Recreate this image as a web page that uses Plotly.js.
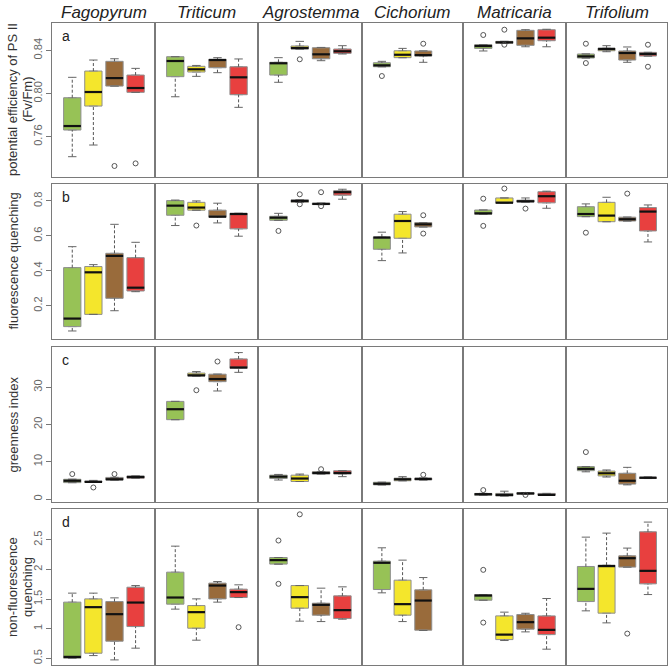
<!DOCTYPE html>
<html><head><meta charset="utf-8">
<script src="https://cdn.plot.ly/plotly-3.0.1.min.js"></script>
<style>html,body{margin:0;padding:0;background:#fff}#chart{width:669px;height:667px}</style>
</head><body><div id="chart"></div>
<script>
// ---------- DATA ----------
const species = ["Fagopyrum","Triticum","Agrostemma","Cichorium","Matricaria","Trifolium"];
const groupColors = ["#97c256","#f4e62c","#996b3b","#e8403f"];
const rowTitleLines = [["potential efficiency of PS II","(Fv/Fm)"],["fluorescence quenching"],["greenness index"],["non-fluorescence","quenching"]];
const rowLetters = ["a","b","c","d"];

// Row a: Fv/Fm  (per species: [green, yellow, brown, red])
const fvfmLo  = [[.7415,.7523,.8069,.8011],[.797,.8159,.8193,.7872],[.8104,.8412,.8304,.8366],[.8248,.8332,.8289,null],[.8394,.8465,.8433,.8433],[.8329,.8387,.8289,.8347]];
const fvfmQ1  = [[.7662,.7884,.8069,.8011],[.8156,.8199,.8239,.7989],[.8171,.8412,.8322,.8372],[.8248,.8332,.8347,null],[.8418,.8465,.8446,.8489],[.8329,.8396,.831,.8347]];
const fvfmMed = [[.7699,.8014,.8143,.8051],[.8301,.8224,.831,.815],[.828,.8421,.8363,.8391],[.8261,.8359,.8356,null],[.844,.8474,.8511,.8517],[.8344,.8412,.8375,.8366]];
const fvfmQ3  = [[.7961,.8208,.8298,.8171],[.8341,.8252,.8317,.8248],[.8289,.844,.8424,.8412],[.8285,.8396,.8394,null],[.8452,.8483,.8585,.8591],[.8366,.8421,.8394,.8381]];
const fvfmHi  = [[.815,.831,.8322,.8233],[.8341,.826,.8332,.832],[.8332,.8483,.8427,.8443],[.8298,.8418,.8394,null],[.8452,.8483,.8591,.8595],[.8366,.8443,.8431,.8381]];
const fvfmOut = [[0,2,.7329],[0,3,.7353],[2,1,.8317],[3,0,.8162],[3,2,.8461],[4,0,.8542],[4,1,.8591],[4,1,.8452],[5,0,.8461],[5,0,.8282],[5,3,.8452],[5,3,.8248]];

// Row b: fluorescence quenching
const fqLo  = [[.055,.15,.171,.28],[.659,.747,.674,.598],[.689,.792,.779,.81],[.458,.502,.651,null],[.724,.787,.794,.758],[.71,.681,.685,.565]];
const fqQ1  = [[.08,.15,.242,.284],[.718,.747,.707,.64],[.689,.792,.779,.833],[.523,.586,.651,null],[.724,.787,.794,.789],[.71,.681,.685,.628]];
const fqMed = [[.126,.391,.485,.303],[.773,.762,.71,.725],[.704,.8,.783,.85],[.59,.685,.666,null],[.729,.79,.798,.827],[.725,.716,.695,.739]];
const fqQ3  = [[.418,.424,.5,.475],[.802,.792,.747,.729],[.712,.806,.787,.859],[.594,.724,.676,null],[.748,.817,.804,.853],[.767,.792,.707,.762]];
const fqHi  = [[.538,.435,.666,.563],[.805,.8,.787,.729],[.729,.806,.787,.867],[.621,.739,.676,null],[.748,.817,.817,.856],[.783,.821,.707,.777]];
const fqOut = [[1,1,.659],[2,0,.628],[2,1,.838],[2,1,.781],[2,2,.85],[2,2,.77],[3,2,.718],[3,2,.613],[4,0,.813],[4,0,.657],[4,1,.871],[4,2,.756],[5,0,.618],[5,2,.842]];

// Row c: greenness index (Cichorium third box is drawn red)
const giLo  = [[4.4,4.5,5.1,5.6],[21.3,33.0,29.0,34.0],[5.1,4.7,6.7,6.0],[3.8,4.9,null,5.1],[1.0,0.8,1.3,1.0],[7.3,5.9,3.8,5.5]];
const giQ1  = [[4.4,4.5,5.1,5.6],[21.3,33.0,31.5,35.1],[5.5,4.7,6.7,6.7],[3.8,4.9,null,5.1],[1.0,0.8,1.3,1.0],[7.6,6.2,4.0,5.5]];
const giMed = [[4.9,4.6,5.3,5.9],[24.1,33.2,32.2,35.3],[6.0,5.5,7.0,7.0],[4.1,5.3,null,5.4],[1.3,1.1,1.5,1.1],[8.1,6.9,4.9,5.7]];
const giQ3  = [[5.3,4.8,5.8,6.2],[26.2,33.8,33.5,37.6],[6.4,6.4,7.3,7.6],[4.5,5.6,null,5.6],[1.5,1.5,1.7,1.5],[8.7,7.5,6.9,5.9]];
const giHi  = [[5.3,5.0,5.8,6.2],[26.2,34.2,33.5,39.3],[6.6,6.7,7.3,7.6],[4.5,6.0,null,5.6],[1.5,2.1,1.7,1.5],[8.7,7.8,8.5,5.9]];
const giOut = [[0,0,6.7],[0,1,3.1],[0,2,6.7],[1,1,29.2],[1,2,36.9],[2,2,8.0],[3,3,6.5],[4,0,2.4],[4,2,1.1],[5,0,12.6]];

// Row d: non-fluorescence quenching
const nfqLo  = [[.502,.546,.473,.671],[1.33,.806,1.448,1.526],[2.09,1.127,1.12,1.16],[1.605,1.12,.97,null],[1.481,.8,.946,.654],[1.301,1.098,2.039,1.576]];
const nfqQ1  = [[.502,.586,.789,1.036],[1.414,1.008,1.503,1.526],[2.09,1.346,1.228,1.171],[1.661,1.228,.975,null],[1.481,.816,.992,.9],[1.458,1.262,2.039,1.757]];
const nfqMed = [[.524,1.363,1.245,1.441],[1.526,1.279,1.728,1.617],[2.157,1.532,1.402,1.313],[2.112,1.414,1.475,null],[1.559,.9,1.11,.98],[1.672,2.056,2.19,1.976]];
const nfqQ3  = [[1.448,1.503,1.458,1.70],[1.954,1.39,1.769,1.667],[2.201,1.728,1.43,1.554],[2.14,1.819,1.655,null],[1.576,1.216,1.239,1.216],[2.05,2.072,2.23,2.635]];
const nfqHi  = [[1.6,1.6,1.52,1.728],[2.393,1.503,1.796,1.74],[2.201,1.728,1.684,1.706],[2.365,2.157,1.863,null],[1.576,1.279,1.26,1.509],[2.545,2.613,2.36,2.799]];
const nfqOut = [[1,3,1.025],[2,0,2.488],[2,0,1.757],[2,1,2.93],[4,0,1.993],[4,0,1.103],[5,2,.917]];

// Axis ticks per row
const rowTickVals = [[0.76,0.80,0.84],[0.2,0.4,0.6,0.8],[0,10,20,30],[0.5,1,1.5,2,2.5]];
const rowTickText = [["0.76","0.80","0.84"],["0.2","0.4","0.6","0.8"],["0","10","20","30"],["0.5","1","1.5","2","2.5"]];
const rowRanges = [[0.7227,0.8653],[0.009,0.897],[-0.8,40.8],[0.387,3.02]];

// ---------- LAYOUT GEOMETRY ----------
const W = 669, H = 667;
const colsPx = [[52,155],[155,258],[258,362],[362,463],[463,566],[566,667]];
const rowsPx = [[23,177],[184,339],[347,502],[509,665]];
const FONT = "Liberation Sans, Arial, sans-serif";
const BOXW = 0.82, HALF = BOXW/2, STAPLE = 0.2;

const rows = [
  {lo:fvfmLo,q1:fvfmQ1,med:fvfmMed,q3:fvfmQ3,hi:fvfmHi,out:fvfmOut},
  {lo:fqLo,q1:fqQ1,med:fqMed,q3:fqQ3,hi:fqHi,out:fqOut},
  {lo:giLo,q1:giQ1,med:giMed,q3:giQ3,hi:giHi,out:giOut},
  {lo:nfqLo,q1:nfqQ1,med:nfqMed,q3:nfqQ3,hi:nfqHi,out:nfqOut}
];

const traces = [];
const layout = {
  width: W, height: H, margin:{l:0,r:0,t:0,b:0},
  paper_bgcolor:"#fff", plot_bgcolor:"#fff", showlegend:false,
  font:{family:FONT, color:"#333"}, annotations:[]
};

function posOf(arr, g){ // position among non-null boxes
  let p = 0;
  for (let i=0;i<=g;i++) if (arr[i]!==null) p++;
  return p;
}

rows.forEach((R, r) => {
  species.forEach((sp, c) => {
    const k = r*6 + c + 1;
    const xn = k===1 ? "x" : "x"+k, yn = k===1 ? "y" : "y"+k;
    const xk = k===1 ? "xaxis" : "xaxis"+k, yk = k===1 ? "yaxis" : "yaxis"+k;
    layout[xk] = {
      domain:[colsPx[c][0]/W, colsPx[c][1]/W], range:[0.04,4.92], anchor:yn,
      showline:true, mirror:true, linecolor:"#7a7a7a", linewidth:1,
      showgrid:false, zeroline:false, showticklabels:false, ticks:"", fixedrange:true
    };
    layout[yk] = {
      domain:[1-rowsPx[r][1]/H, 1-rowsPx[r][0]/H], range:rowRanges[r], anchor:xn,
      showline:true, mirror:true, linecolor:"#7a7a7a", linewidth:1,
      showgrid:false, zeroline:false, fixedrange:true,
      tickmode:"array", tickvals:rowTickVals[r], ticktext:rowTickText[r],
      showticklabels: c===0, ticks: c===0 ? "outside" : "", ticklen:5, tickcolor:"#777",
      tickangle:-90, tickfont:{size:11, color:"#666", family:FONT}
    };
    const medX=[], medY=[], wX=[], wY=[], sX=[], sY=[];
    for (let g=0; g<4; g++){
      const q1 = R.q1[c][g];
      if (q1===null) continue;
      const p = posOf(R.q1[c], g);
      const q3 = R.q3[c][g], md = R.med[c][g], lo = R.lo[c][g], hi = R.hi[c][g];
      traces.push({
        type:"box", x:[p], q1:[q1], median:[md], q3:[q3], lowerfence:[q1], upperfence:[q3],
        width:BOXW, fillcolor:groupColors[g], line:{color:"#8e8e8e", width:1},
        boxpoints:false, xaxis:xn, yaxis:yn, hoverinfo:"skip", showlegend:false
      });
      medX.push(p-HALF, p+HALF, null); medY.push(md, md, null);
      if (hi > q3){ wX.push(p,p,null); wY.push(q3,hi,null); }
      if (lo < q1){ wX.push(p,p,null); wY.push(lo,q1,null); }
      sX.push(p-STAPLE,p+STAPLE,null); sY.push(hi,hi,null);
      sX.push(p-STAPLE,p+STAPLE,null); sY.push(lo,lo,null);
    }
    traces.push({type:"scatter",mode:"lines",x:wX,y:wY,xaxis:xn,yaxis:yn,line:{color:"#555",width:1,dash:"3px,2px"},hoverinfo:"skip"});
    traces.push({type:"scatter",mode:"lines",x:sX,y:sY,xaxis:xn,yaxis:yn,line:{color:"#666",width:1},hoverinfo:"skip"});
    traces.push({type:"scatter",mode:"lines",x:medX,y:medY,xaxis:xn,yaxis:yn,line:{color:"#111",width:2.2},hoverinfo:"skip"});
    const oX=[], oY=[];
    R.out.filter(o=>o[0]===c).forEach(o=>{ oX.push(posOf(R.q1[c], o[1])); oY.push(o[2]); });
    if (oX.length) traces.push({type:"scatter",mode:"markers",x:oX,y:oY,xaxis:xn,yaxis:yn,
      marker:{symbol:"circle-open",size:5,color:"#444",line:{width:0.9}},hoverinfo:"skip"});
  });
  // row title (one annotation per line)
  const yc = (rowsPx[r][0]+rowsPx[r][1])/2;
  const lines = rowTitleLines[r];
  lines.forEach((ln, i) => {
    const xpx = lines.length===2 ? (i===0 ? 12 : 27) : 13;
    layout.annotations.push({
      text:ln, xref:"paper", yref:"paper", x:xpx/W, y:1-yc/H,
      xanchor:"center", yanchor:"middle", showarrow:false, textangle:-90,
      font:{size:13, color:"#333", family:FONT}
    });
  });
  layout.annotations.push({
    text:rowLetters[r], xref:"paper", yref:"paper", x:60/W, y:1-(rowsPx[r][0]+13)/H,
    xanchor:"left", yanchor:"middle", showarrow:false, font:{size:14, color:"#222", family:FONT}
  });
});

species.forEach((sp,c)=>{
  layout.annotations.push({
    text:"<i>"+sp+"</i>", xref:"paper", yref:"paper", x:((colsPx[c][0]+colsPx[c][1])/2)/W, y:1-12/H,
    xanchor:"center", yanchor:"middle", showarrow:false, font:{size:17, color:"#222", family:FONT}
  });
});

Plotly.newPlot("chart", traces, layout, {staticPlot:true, displayModeBar:false});
</script></body></html>
